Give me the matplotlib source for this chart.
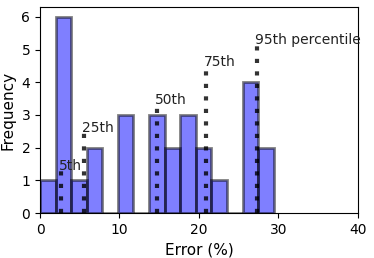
import matplotlib
matplotlib.use("Agg")
import matplotlib.pyplot as plt
import numpy as np

# histogram bins (15 bins of width 1.96) and counts
bin_edges = np.linspace(0, 29.4, 16)
counts = [1, 6, 1, 2, 0, 3, 0, 3, 2, 3, 2, 1, 0, 4, 2]

# percentile markers: position (%), line height, label
pct_x = [2.65, 5.55, 14.7, 20.9, 27.35]
pct_h = [1.32, 2.47, 3.33, 4.5, 5.18]
pct_labels = ["5th", "25th", "50th", "75th", "95th percentile"]

fig = plt.figure(figsize=(3.74, 2.58), dpi=100)
ax = fig.add_axes([0.107, 0.174, 0.85, 0.799])

centers = (bin_edges[:-1] + bin_edges[1:]) / 2
ax.hist(centers, bins=bin_edges, weights=counts, color="blue", alpha=0.5,
        edgecolor="black", linewidth=2)

for x, h, lab in zip(pct_x, pct_h, pct_labels):
    ax.plot([x, x], [0, h], color="black", alpha=0.8, linewidth=3,
            linestyle=(0, (1, 2)))
    ax.text(x - 0.3, h, lab, fontsize=10, color="#222222")

ax.set_xlim(0, 40)
ax.set_xlabel("Error (%)", fontsize=11)
ax.set_ylabel("Frequency", fontsize=11)
ax.tick_params(labelsize=10)

fig.savefig("out.png", dpi=100)
